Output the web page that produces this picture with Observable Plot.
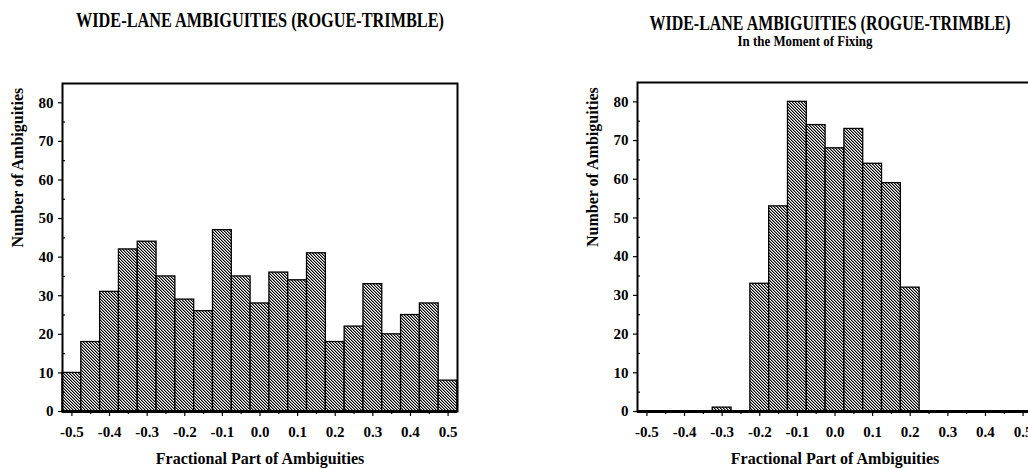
<!DOCTYPE html>
<html>
<head>
<meta charset="utf-8">
<script src="https://cdn.jsdelivr.net/npm/d3@7"></script>
<script src="https://cdn.jsdelivr.net/npm/@observablehq/plot@0.6"></script>
<style>
html, body { margin: 0; padding: 0; background: #fff; }
#wrap { position: relative; width: 1028px; height: 469px; overflow: hidden; background: #fff; }
.chart { position: absolute; }
#titles { position: absolute; left: 0; top: 0; }
</style>
</head>
<body>
<div id="wrap">
  <div id="chartL" class="chart" style="left:0px; top:40px;"></div>
  <div id="chartR" class="chart" style="left:575px; top:50px;"></div>
</div>
<script>
// ---- data ----
const binCenters = [-0.5, -0.45, -0.4, -0.35, -0.3, -0.25, -0.2, -0.15, -0.1, -0.05, 0.0,
                    0.05, 0.1, 0.15, 0.2, 0.25, 0.3, 0.35, 0.4, 0.45, 0.5];
const binWidth = 0.05;
const countsAll =    [10, 18, 31, 42, 44, 35, 29, 26, 47, 35, 28, 36, 34, 41, 18, 22, 33, 20, 25, 28, 8];
const countsFixing = [0, 0, 0, 0, 1, 0, 33, 53, 80, 74, 68, 73, 64, 59, 32, 0, 0, 0, 0, 0, 0];
const xTicks = [-0.5, -0.4, -0.3, -0.2, -0.1, 0.0, 0.1, 0.2, 0.3, 0.4, 0.5];
const xMinorTicks = [-0.45, -0.35, -0.25, -0.15, -0.05, 0.05, 0.15, 0.25, 0.35, 0.45];
const yTicks = [0, 10, 20, 30, 40, 50, 60, 70, 80];
const yMinorTicks = [5, 15, 25, 35, 45, 55, 65, 75];
const titleMain = "WIDE-LANE AMBIGUITIES (ROGUE-TRIMBLE)";
const subtitleRight = "In the Moment of Fixing";
const xLabel = "Fractional Part of Ambiguities";
const yLabel = "Number of Ambiguities";

const NS = "http://www.w3.org/2000/svg";
const FONT = "'Liberation Serif', 'Times New Roman', serif";

function makeChart(counts, marginTop, height, hatchId) {
  const bins = binCenters
    .map((c, i) => ({x1: c - binWidth / 2, x2: c + binWidth / 2, n: counts[i]}))
    .filter(d => d.n > 0);
  const svg = Plot.plot({
    width: 520,
    height: height,
    marginLeft: 62,
    marginRight: 63,
    marginTop: marginTop,
    marginBottom: 58,
    style: {fontFamily: FONT, fontWeight: "bold", fontSize: "15px", color: "black",
            background: "none", overflow: "visible", maxWidth: "none"},
    x: {domain: [-0.525, 0.525]},
    y: {domain: [0, 85]},
    marks: [
      Plot.rectY(bins, {x1: "x1", x2: "x2", y: "n", fill: `url(#${hatchId})`,
                        stroke: "black", strokeWidth: 1.3}),
      Plot.axisX(xMinorTicks, {tickSize: 3, tickFormat: () => "", label: null, strokeWidth: 1.2}),
      Plot.axisX(xTicks, {tickSize: 5, tickPadding: 10, tickFormat: d => d.toFixed(1),
                          label: null, fontSize: 15, strokeWidth: 1.2}),
      Plot.axisY(yMinorTicks, {tickSize: 3, dx: 3, tickFormat: () => "", label: null, strokeWidth: 1.2}),
      Plot.axisY(yTicks, {tickSize: 4, tickPadding: 5, tickFormat: d => String(d),
                          label: null, fontSize: 15, strokeWidth: 1.2}),
      Plot.frame({strokeWidth: 2}),
      Plot.ruleY([0], {strokeWidth: 3}),
      Plot.text([xLabel], {text: d => d, frameAnchor: "bottom", dy: 52, lineAnchor: "bottom",
                           fontSize: 16, ariaLabel: "xlabel"}),
      Plot.text([yLabel], {text: d => d, frameAnchor: "left", rotate: -90, dx: -40,
                           lineAnchor: "bottom", fontSize: 16, ariaLabel: "ylabel"})
    ]
  });
  const defs = document.createElementNS(NS, "defs");
  defs.innerHTML =
    `<pattern id="${hatchId}" patternUnits="userSpaceOnUse" width="3" height="3">
       <rect width="3" height="3" fill="white"/>
       <g shape-rendering="crispEdges">
         <rect x="0" y="0" width="1" height="1" fill="black"/>
         <rect x="1" y="1" width="1" height="1" fill="black"/>
         <rect x="2" y="2" width="1" height="1" fill="black"/>
         <rect x="1" y="0" width="1" height="1" fill="#8a8a8a"/>
         <rect x="2" y="1" width="1" height="1" fill="#8a8a8a"/>
         <rect x="0" y="2" width="1" height="1" fill="#8a8a8a"/>
       </g>
     </pattern>`;
  svg.insertBefore(defs, svg.firstChild);
  const xl = svg.querySelector('g[aria-label="xlabel"] text');
  if (xl) { xl.setAttribute("textLength", 184); xl.setAttribute("lengthAdjust", "spacingAndGlyphs"); }
  const yl = svg.querySelector('g[aria-label="ylabel"] text');
  if (yl) { yl.setAttribute("textLength", 190); yl.setAttribute("lengthAdjust", "spacingAndGlyphs"); }
  return svg;
}

document.getElementById("chartL").appendChild(makeChart(countsAll, 43, 429, "hatchL"));
document.getElementById("chartR").appendChild(makeChart(countsFixing, 32, 419, "hatchR"));

// titles (above the plots)
const tsvg = document.createElementNS(NS, "svg");
tsvg.setAttribute("id", "titles");
tsvg.setAttribute("width", 1028);
tsvg.setAttribute("height", 50);
tsvg.setAttribute("font-family", FONT);
tsvg.setAttribute("font-weight", "bold");
const titleSpecs = [
  {text: titleMain, x: 260, y: 26.5, size: 20, len: 368},
  {text: titleMain, x: 830, y: 30, size: 20, len: 361},
  {text: subtitleRight, x: 805, y: 45.5, size: 14, len: 135}
];
for (const t of titleSpecs) {
  const el = document.createElementNS(NS, "text");
  el.setAttribute("x", t.x);
  el.setAttribute("y", t.y);
  el.setAttribute("text-anchor", "middle");
  el.setAttribute("font-size", t.size);
  el.setAttribute("textLength", t.len);
  el.setAttribute("lengthAdjust", "spacingAndGlyphs");
  el.textContent = t.text;
  tsvg.appendChild(el);
}
document.getElementById("wrap").appendChild(tsvg);
</script>
</body>
</html>
